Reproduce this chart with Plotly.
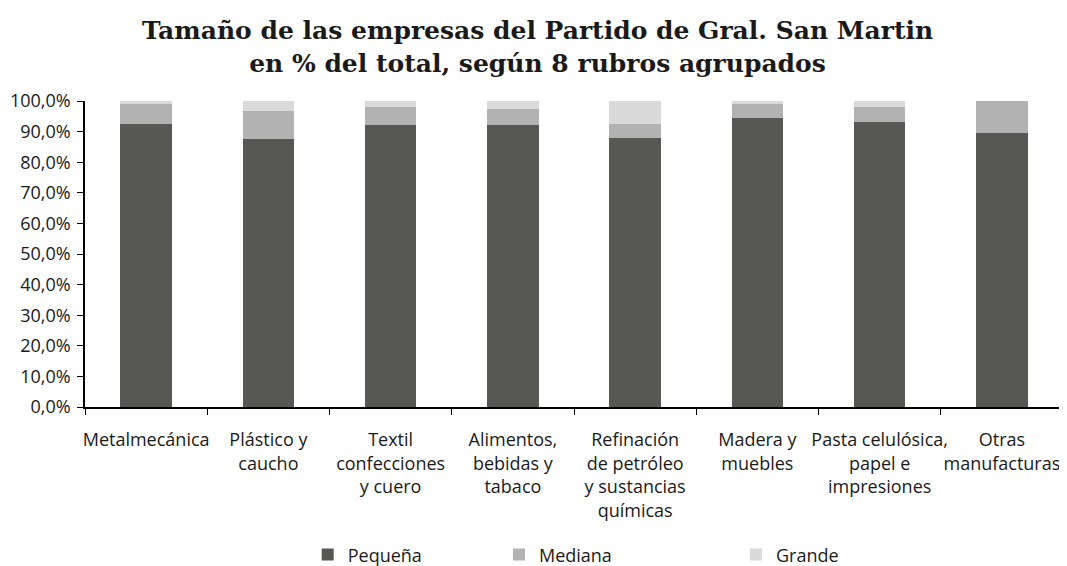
import plotly.graph_objects as go

# Datos (% del total por rubro)
rubros = [
    "Metalmecánica",
    "Plástico y<br>caucho",
    "Textil<br>confecciones<br>y cuero",
    "Alimentos,<br>bebidas y<br>tabaco",
    "Refinación<br>de petróleo<br>y sustancias<br>químicas",
    "Madera y<br>muebles",
    "Pasta celulósica,<br>papel e<br>impresiones",
    "Otras<br>manufacturas",
]
pequena = [92.6, 87.7, 92.3, 92.3, 88.0, 94.3, 93.0, 89.4]
mediana = [6.3, 8.9, 5.9, 5.2, 4.6, 4.6, 5.2, 10.6]
grande = [1.1, 3.4, 1.8, 2.5, 7.4, 1.1, 1.8, 0.0]

colores = {"Pequeña": "#575756", "Mediana": "#b2b2b2", "Grande": "#dadada"}

# cada serie en su propia leyenda, para ubicarlas como en el original
series = [("Pequeña", pequena, "legend", 0.283),
          ("Mediana", mediana, "legend2", 0.4636),
          ("Grande", grande, "legend3", 0.6874)]

fig = go.Figure()
for nombre, valores, ley, _ in series:
    fig.add_trace(go.Bar(x=rubros, y=valores, name=nombre, legend=ley, showlegend=True,
                         marker=dict(color=colores[nombre], line=dict(width=0))))

# la página deja 8 px de margen en el body, así que la figura es 8 px más chica
fig.update_layout(
    barmode="stack",
    bargap=0.58,
    showlegend=True,
    width=1059, height=558,
    margin=dict(l=77, r=4, t=93, b=159, autoexpand=False),
    paper_bgcolor="white", plot_bgcolor="white",
    separators=", ",
    font=dict(family="Open Sans, sans-serif", size=18, color="#1a1a1a"),
    title=dict(
        text="Tamaño de las empresas del Partido de Gral. San Martin<br>en % del total, según 8 rubros agrupados",
        x=0.5, xanchor="center", y=0.944, yanchor="top",
        font=dict(family="DejaVu Serif, serif", size=25, color="#1a1a1a", weight="bold"),
    ),
)

for nombre, _, ley, xpos in series:
    fig.update_layout({ley: dict(
        orientation="h", xref="container", x=xpos, xanchor="left",
        yref="container", y=0.02, yanchor="middle",
        font=dict(size=18), bgcolor="rgba(0,0,0,0)",
    )})

fig.update_xaxes(
    showline=True, linecolor="black", linewidth=1.5,
    ticks="outside", ticklen=6, tickcolor="black", tickson="boundaries",
    showgrid=False, tickangle=0, automargin=False, ticklabelstandoff=16,
)
fig.update_yaxes(
    range=[0, 100], dtick=10, tickformat=".1f", ticksuffix="%",
    showline=True, linecolor="black", linewidth=1.5,
    ticks="outside", ticklen=6, tickcolor="black",
    showgrid=False, zeroline=False, automargin=False, ticklabelstandoff=3,
)

fig.write_html("out.html")
